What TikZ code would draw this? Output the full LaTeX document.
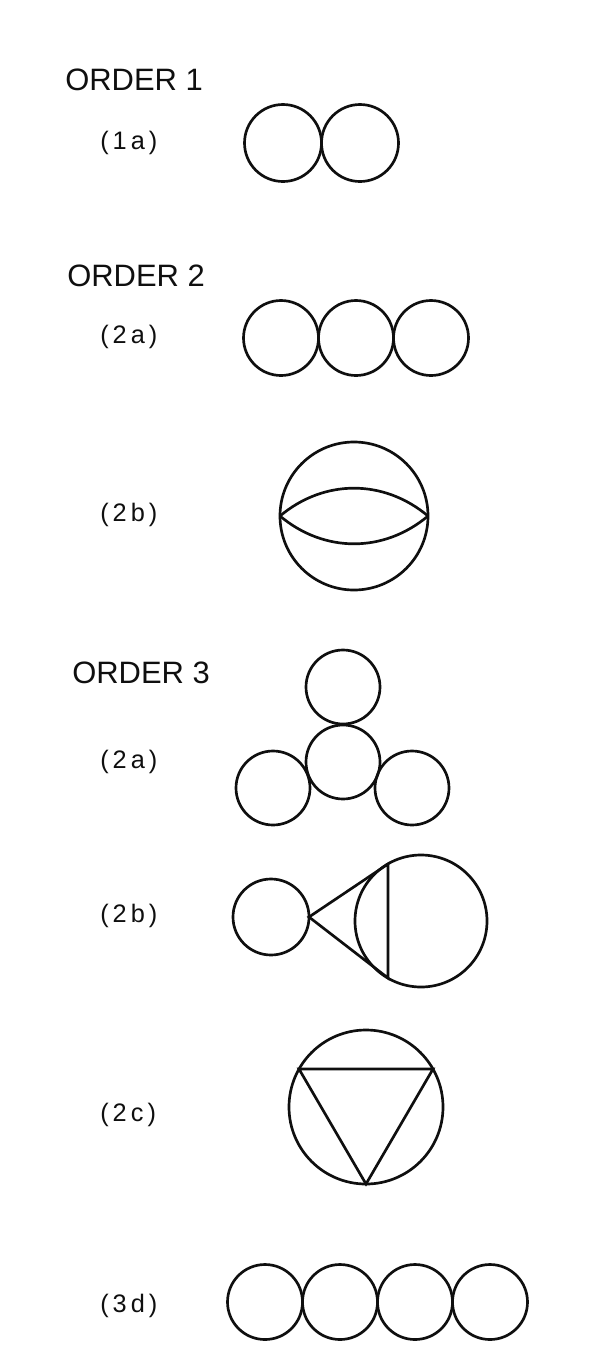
\documentclass[tikz,border=0pt]{standalone}
\usepackage{fontspec}
\setmainfont{Liberation Sans}
\newfontfamily\tagfont[LetterSpace=16]{Liberation Sans}
\usepackage{tikz}
\usetikzlibrary{calc}
\definecolor{inkblack}{RGB}{15, 15, 15}

\tikzset{
  loopline/.style={inkblack, line width=1.9pt},
  ordertitle/.style={anchor=west, inner sep=0pt, text=inkblack, font=\fontsize{22}{24}\selectfont},
  graphtag/.style={anchor=west, inner sep=0pt, text=inkblack, font=\tagfont\fontsize{18}{20}\selectfont},
}

\begin{document}
\begin{tikzpicture}[x=0.25mm, y=-0.25mm]
  \useasboundingbox (0,0) rectangle (598,1351);
  % Order 1 - two loops
  \node[ordertitle] (ord1) at (65,80) {ORDER 1};
  \node[graphtag] (t1a) at (100,143) {(1a)};
  \foreach \x in {283,360} {
    \draw[loopline] (\x,143) circle (9.625mm);
  }
  % Order 2 - chain of three
  \node[ordertitle] (ord2) at (67,276) {ORDER 2};
  \node[graphtag] (t2a) at (100,337) {(2a)};
  \foreach \x in {281,356,431} {
    \draw[loopline] (\x,338) circle (9.375mm);
  }
  % Order 2 - the watermelon
  \node[graphtag] (t2b) at (100,515) {(2b)};
  \coordinate (wl) at (280,516);
  \coordinate (wr) at (428,516);
  \draw[loopline] (354,516) circle (18.5mm);
  \draw[loopline] (wl) to[bend left=40] (wr);
  \draw[loopline] (wl) to[bend right=40] (wr);
  % Order 3 - clover
  \node[ordertitle] (ord3) at (72,673) {ORDER 3};
  \node[graphtag] (t3a) at (100,762) {(2a)};
  \foreach \p in {(343,687),(343,762),(273,788),(412,788)} {
    \draw[loopline] \p circle (9.25mm);
  }
  % Order 3 - tadpole with triangle
  \node[graphtag] (t3b) at (100,916) {(2b)};
  \coordinate (vx) at (309,917);
  \coordinate (ct) at (388,864);
  \coordinate (cb) at (388,978);
  \draw[loopline] (271,917) circle (9.5mm);
  \draw[loopline] (421,921) circle (16.5mm);
  \draw[loopline] (ct) -- (vx) -- (cb) -- cycle;
  % Order 3 - inscribed triangle
  \node[graphtag] (t3c) at (100,1115) {(2c)};
  \coordinate (tl) at (299,1069);
  \coordinate (tr) at (433,1069);
  \coordinate (tb) at (366,1184);
  \draw[loopline] (366,1107) circle (19.25mm);
  \draw[loopline] (tl) -- (tr) -- (tb) -- cycle;
  % Order 3 - chain of four
  \node[graphtag] (t3d) at (100,1306) {(3d)};
  \foreach \x in {265,340,415,490} {
    \draw[loopline] (\x,1302) circle (9.375mm);
  }
\end{tikzpicture}
\end{document}
